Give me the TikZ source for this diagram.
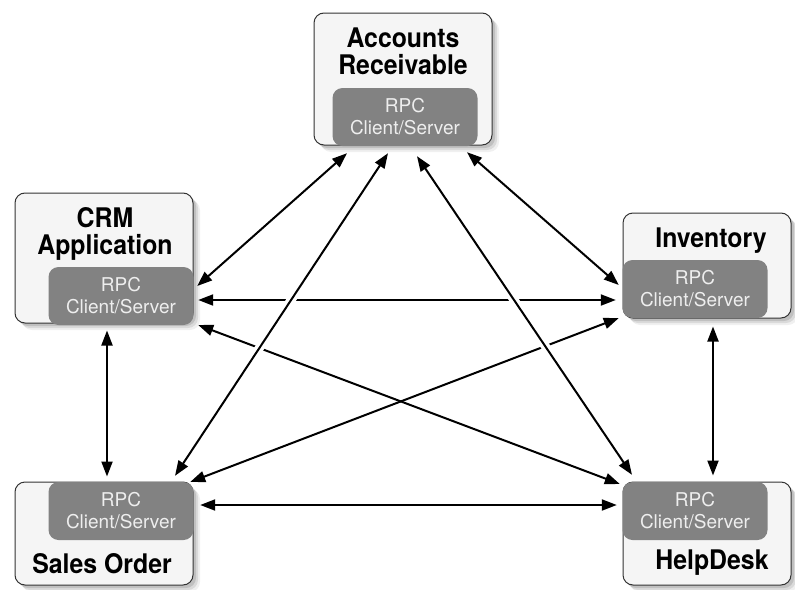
\documentclass[tikz,border=0pt]{standalone}
\usepackage{fontspec}
\setmainfont{TeX Gyre Heros}
\newfontfamily\titlefont[FakeStretch=0.92]{TeX Gyre Heros}
\usepackage{xcolor}
\usetikzlibrary{arrows.meta,shadows}

\definecolor{boxfill}{HTML}{F5F5F5}
\definecolor{rpcgray}{HTML}{828282}
\definecolor{rpctext}{HTML}{EEEEEE}

\begin{document}
\begin{tikzpicture}[x=1pt, y=-1pt,
     softshadow/.style={general shadow={shadow xshift=3pt,shadow yshift=-3pt,fill=black,opacity=.12},
                        general shadow={shadow xshift=5pt,shadow yshift=-5pt,fill=black,opacity=.09},
                        general shadow={shadow xshift=7pt,shadow yshift=-7pt,fill=black,opacity=.06}},
     sysbox/.style={draw=black!80, line width=1pt, fill=boxfill, rounded corners=10pt, inner sep=0pt, softshadow},
     rpcbox/.style={fill=rpcgray, rounded corners=10pt, minimum width=145pt, minimum height=58pt,
                    inner sep=0pt, text=rpctext, align=center, font=\fontsize{19}{22}\selectfont},
     systitle/.style={font=\titlefont\fontsize{27}{27}\selectfont\bfseries, align=center, inner sep=0pt},
     link/.style={{Triangle[length=15pt,width=11pt]}-{Triangle[length=15pt,width=11pt]}, line width=2pt},
     overlink/.style={link, preaction={draw=white, line width=9pt, -, shorten >=25pt, shorten <=25pt}}]
    \useasboundingbox (0,0) rectangle (795,589);
    %systems
    \node[sysbox, minimum width=178pt, minimum height=132pt] (acctrec) at (403,79) {};
    \node[sysbox, minimum width=178pt, minimum height=130pt] (crm) at (104,258) {};
    \node[sysbox, minimum width=168pt, minimum height=105pt] (inventory) at (707,265.5) {};
    \node[sysbox, minimum width=178pt, minimum height=103pt] (salesorder) at (104,533.5) {};
    \node[sysbox, minimum width=168pt, minimum height=103pt] (helpdesk) at (707,533.5) {};
    %rpc layers
    \node[rpcbox] (acctrec-rpc) at (405,117) {RPC\\Client/Server};
    \node[rpcbox] (crm-rpc) at (121,296) {RPC\\Client/Server};
    \node[rpcbox] (inventory-rpc) at (695,289) {RPC\\Client/Server};
    \node[rpcbox] (salesorder-rpc) at (121,511) {RPC\\Client/Server};
    \node[rpcbox] (helpdesk-rpc) at (695,511) {RPC\\Client/Server};
    %titles
    \node[systitle, anchor=north] (acctrec-title) at (403,28) {Accounts\\Receivable};
    \node[systitle, anchor=north] (crm-title) at (105,207) {CRM\\Application};
    \node[systitle, anchor=base] (inventory-title) at (711,247) {Inventory};
    \node[systitle, anchor=base] (salesorder-title) at (102,573) {Sales Order};
    \node[systitle, anchor=base] (helpdesk-title) at (712,569) {HelpDesk};
    %links
    \draw[link] ([shift={(4.5,4)}]crm-rpc.east) -- ([shift={(-6.5,11)}]inventory-rpc.west);
    \draw[link] ([shift={(6.5,-6)}]salesorder-rpc.east) -- ([shift={(-5.5,-6)}]helpdesk-rpc.west);
    \draw[link] ([shift={(3,7)}]crm.south) -- ([shift={(3,-5)}]salesorder.north);
    \draw[link] ([shift={(6,8)}]inventory.south) -- ([shift={(6,-6)}]helpdesk.north);
    \draw[link] ([shift={(-58,7)}]acctrec-rpc.south) -- ([shift={(3.5,-10)}]crm-rpc.east);
    \draw[link] ([shift={(62,6)}]acctrec-rpc.south) -- ([shift={(-3.5,-4)}]inventory-rpc.west);
    \draw[link] ([shift={(4.5,29)}]crm-rpc.east) -- ([shift={(-2.5,-27)}]helpdesk-rpc.west);
    \draw[link] ([shift={(-3.5,-29)}]salesorder-rpc.east) -- ([shift={(-3.5,29)}]inventory-rpc.west);
    \draw[overlink] ([shift={(-17,7)}]acctrec-rpc.south) -- ([shift={(54,-6)}]salesorder-rpc.north);
    \draw[overlink] ([shift={(12,10)}]acctrec-rpc.south) -- ([shift={(-63,-7)}]helpdesk-rpc.north);
\end{tikzpicture}
\end{document}
